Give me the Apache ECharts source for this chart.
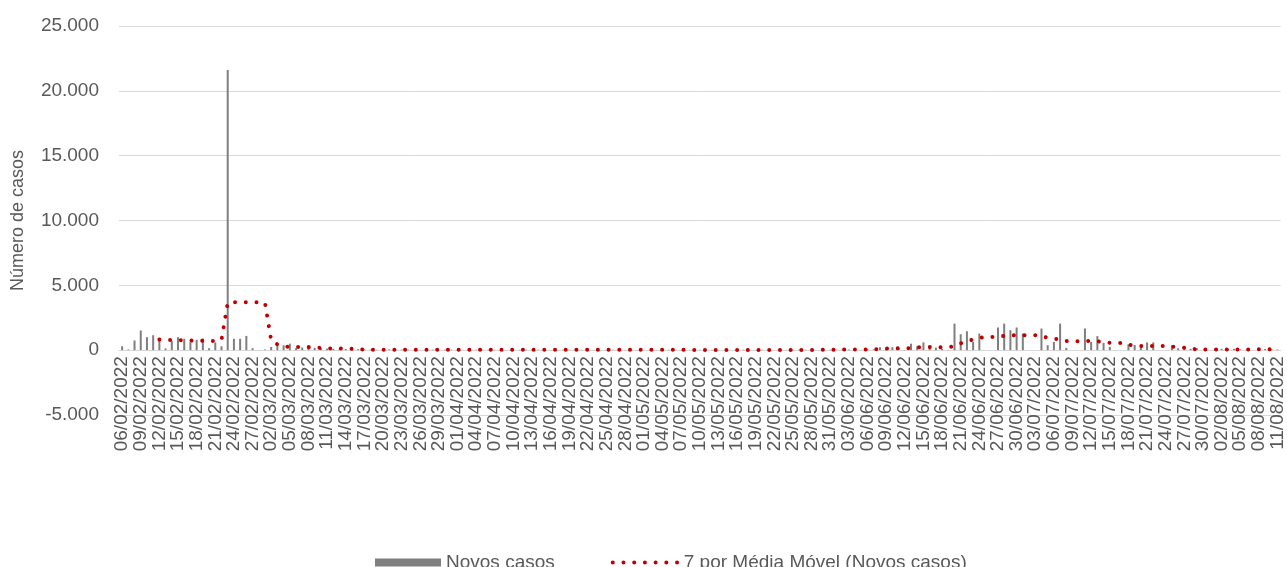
<!DOCTYPE html>
<html>
<head>
<meta charset="utf-8">
<script src="https://cdn.jsdelivr.net/npm/echarts@6.0.0/dist/echarts.min.js"></script>
<style>
html,body{margin:0;padding:0;background:#fff;}
#chart{width:1287px;height:567px;}
</style>
</head>
<body>
<div id="chart"></div>
<script>
const dates = [
"06/02/2022","07/02/2022","08/02/2022","09/02/2022","10/02/2022","11/02/2022","12/02/2022","13/02/2022","14/02/2022","15/02/2022",
"16/02/2022","17/02/2022","18/02/2022","19/02/2022","20/02/2022","21/02/2022","22/02/2022","23/02/2022","24/02/2022","25/02/2022",
"26/02/2022","27/02/2022","28/02/2022",
"01/03/2022","02/03/2022","03/03/2022","04/03/2022","05/03/2022","06/03/2022","07/03/2022","08/03/2022","09/03/2022","10/03/2022",
"11/03/2022","12/03/2022","13/03/2022","14/03/2022","15/03/2022","16/03/2022","17/03/2022","18/03/2022","19/03/2022","20/03/2022",
"21/03/2022","22/03/2022","23/03/2022","24/03/2022","25/03/2022","26/03/2022","27/03/2022","28/03/2022","29/03/2022","30/03/2022","31/03/2022",
"01/04/2022","02/04/2022","03/04/2022","04/04/2022","05/04/2022","06/04/2022","07/04/2022","08/04/2022","09/04/2022","10/04/2022",
"11/04/2022","12/04/2022","13/04/2022","14/04/2022","15/04/2022","16/04/2022","17/04/2022","18/04/2022","19/04/2022","20/04/2022",
"21/04/2022","22/04/2022","23/04/2022","24/04/2022","25/04/2022","26/04/2022","27/04/2022","28/04/2022","29/04/2022","30/04/2022",
"01/05/2022","02/05/2022","03/05/2022","04/05/2022","05/05/2022","06/05/2022","07/05/2022","08/05/2022","09/05/2022","10/05/2022",
"11/05/2022","12/05/2022","13/05/2022","14/05/2022","15/05/2022","16/05/2022","17/05/2022","18/05/2022","19/05/2022","20/05/2022",
"21/05/2022","22/05/2022","23/05/2022","24/05/2022","25/05/2022","26/05/2022","27/05/2022","28/05/2022","29/05/2022","30/05/2022","31/05/2022",
"01/06/2022","02/06/2022","03/06/2022","04/06/2022","05/06/2022","06/06/2022","07/06/2022","08/06/2022","09/06/2022","10/06/2022",
"11/06/2022","12/06/2022","13/06/2022","14/06/2022","15/06/2022","16/06/2022","17/06/2022","18/06/2022","19/06/2022","20/06/2022",
"21/06/2022","22/06/2022","23/06/2022","24/06/2022","25/06/2022","26/06/2022","27/06/2022","28/06/2022","29/06/2022","30/06/2022",
"01/07/2022","02/07/2022","03/07/2022","04/07/2022","05/07/2022","06/07/2022","07/07/2022","08/07/2022","09/07/2022","10/07/2022",
"11/07/2022","12/07/2022","13/07/2022","14/07/2022","15/07/2022","16/07/2022","17/07/2022","18/07/2022","19/07/2022","20/07/2022",
"21/07/2022","22/07/2022","23/07/2022","24/07/2022","25/07/2022","26/07/2022","27/07/2022","28/07/2022","29/07/2022","30/07/2022","31/07/2022",
"01/08/2022","02/08/2022","03/08/2022","04/08/2022","05/08/2022","06/08/2022","07/08/2022","08/08/2022","09/08/2022","10/08/2022","11/08/2022"
];

const novosCasos = [
300, 50, 750, 1520, 1000, 1150, 770,
130, 700, 1000, 880, 620, 800, 900,
150, 600, 300, 21600, 880, 880, 1100,
150, 0, 50, 250, 330, 380, 500,
150, 200, 220, 180, 150, 120, 100,
60, 90, 110, 80, 60, 40, 30,
20, 60, 50, 40, 50, 20, 10,
10, 40, 30, 40, 30, 30, 10,
10, 30, 40, 30, 20, 30, 10,
0, 30, 40, 30, 30, 20, 10,
10, 30, 30, 40, 30, 20, 10,
0, 20, 30, 30, 20, 30, 10,
0, 30, 20, 30, 30, 20, 10,
0, 20, 30, 20, 30, 20, 0,
0, 20, 30, 20, 20, 30, 10,
0, 30, 20, 30, 40, 30, 10,
0, 40, 30, 40, 60, 50, 20,
10, 60, 50, 230, 80, 230, 120,
20, 500, 300, 600, 250, 200, 100,
20, 2050, 1230, 1460, 640, 1280, 0,
0, 1750, 2050, 1540, 1750, 1280, 0,
0, 1670, 380, 640, 2050, 180, 0,
0, 1670, 640, 1080, 560, 250, 0,
0, 450, 400, 300, 600, 600, 0,
0, 380, 150, 150, 100, 150, 0,
0, 120, 100, 80, 100, 60, 0,
0, 150, 80, 60, 50
];

const mediaMovel = [
null, null, null, null, null, null, 820,
790, 790, 780, 760, 740, 730, 720,
700, 720, 800, 3650, 3700, 3700, 3700,
3700, 3700, 3650, 750, 450, 300, 250,
250, 250, 240, 200, 170, 140, 130,
130, 120, 100, 70, 50, 40, 40,
40, 40, 40, 40, 40, 40, 30,
30, 30, 30, 30, 30, 30, 30,
30, 30, 30, 30, 30, 30, 30,
30, 30, 30, 30, 30, 30, 30,
30, 30, 30, 30, 30, 30, 30,
30, 30, 30, 30, 30, 30, 30,
30, 30, 30, 30, 30, 30, 30,
20, 20, 20, 20, 20, 20, 20,
20, 20, 20, 20, 20, 20, 20,
20, 20, 20, 20, 20, 20, 20,
20, 30, 30, 40, 50, 60, 60,
60, 60, 60, 90, 120, 130, 140,
140, 160, 220, 230, 240, 230, 220,
230, 300, 520, 700, 820, 950, 1000,
1020, 1060, 1100, 1130, 1150, 1150, 1150,
1150, 1100, 950, 880, 820, 700, 690,
690, 700, 710, 680, 640, 570, 560,
560, 420, 350, 330, 330, 330, 330,
330, 280, 230, 190, 120, 60, 60,
60, 60, 60, 60, 60, 60, 60,
60, 70, 70, 60, 60
];

const yTicks = { min: -5000, max: 25000, step: 5000 };
const seriesNames = ["Novos casos", "7 por Média Móvel (Novos casos)"];

function fmtThousands(v) {
  const s = String(Math.abs(v)).replace(/\B(?=(\d{3})+(?!\d))/g, ".");
  return (v < 0 ? "-" : "") + s;
}

const FONT = '"Liberation Sans", Arial, sans-serif';
const GRID = { left: 119, right: 0, top: 26, bottom: 152 };
const plotH = 567 - GRID.top - GRID.bottom;
// distance from bottom of plot to the zero line
const zeroOffset = plotH * (0 - yTicks.min) / (yTicks.max - yTicks.min);

const labelBase = { rotate: 90, color: "#595959", fontSize: 19, margin: 6, fontFamily: FONT };

const chart = echarts.init(document.getElementById("chart"), null, { renderer: "canvas" });
chart.setOption({
  backgroundColor: "#ffffff",
  animation: false,
  textStyle: { fontFamily: FONT },
  grid: GRID,
  legend: {
    left: 370,
    top: 548,
    itemWidth: 66,
    itemHeight: 8,
    itemGap: 56,
    textStyle: { color: "#595959", fontSize: 19, fontFamily: FONT },
    lineStyle: { width: 4 },
    data: [
      { name: seriesNames[0], icon: "rect" },
      { name: seriesNames[1], itemStyle: { opacity: 0 } }
    ]
  },
  xAxis: [
    {
      type: "category",
      data: dates,
      boundaryGap: true,
      offset: -zeroOffset,
      axisLine: { onZero: false, lineStyle: { color: "#d9d9d9", width: 1 } },
      axisTick: { interval: 2, length: 5, lineStyle: { color: "#d9d9d9" } },
      axisLabel: Object.assign({}, labelBase, {
        interval: function (i) { return i % 6 === 0; }
      }),
      splitLine: { show: false }
    },
    {
      type: "category",
      data: dates,
      boundaryGap: true,
      position: "bottom",
      offset: -zeroOffset,
      axisLine: { show: false, onZero: false },
      axisTick: { show: false },
      axisLabel: Object.assign({}, labelBase, {
        interval: function (i) { return i % 6 === 3; }
      }),
      splitLine: { show: false }
    }
  ],
  yAxis: {
    type: "value",
    min: yTicks.min,
    max: yTicks.max,
    interval: yTicks.step,
    name: "Número de casos",
    nameLocation: "middle",
    nameGap: 92,
    nameTextStyle: { color: "#595959", fontSize: 18, fontFamily: FONT },
    axisLine: { show: false },
    axisTick: { show: false },
    axisLabel: { color: "#595959", fontSize: 19, margin: 20, formatter: fmtThousands, fontFamily: FONT },
    splitLine: { lineStyle: { color: "#d9d9d9", width: 1 } }
  },
  series: [
    {
      name: seriesNames[0],
      type: "bar",
      xAxisIndex: 0,
      data: novosCasos,
      barWidth: 2,
      itemStyle: { color: "#7f7f7f" },
      z: 2
    },
    {
      name: seriesNames[1],
      type: "line",
      xAxisIndex: 0,
      data: mediaMovel,
      symbol: "none",
      showSymbol: false,
      connectNulls: false,
      itemStyle: { color: "#c00000" },
      lineStyle: { color: "#c00000", width: 4, type: [0.01, 10.7], cap: "round", join: "round" },
      z: 3
    }
  ]
});
</script>
</body>
</html>
